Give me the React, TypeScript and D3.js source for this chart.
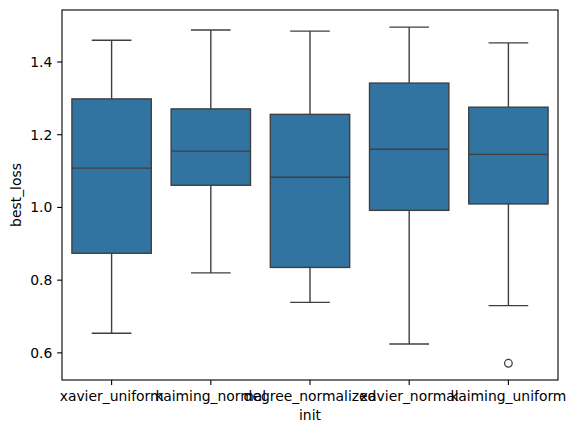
import React from "react";
import * as d3 from "d3";

const categories = ["xavier_uniform", "kaiming_normal", "degree_normalized", "xavier_normal", "kaiming_uniform"];
const whiskerLow = [0.654, 0.82, 0.739, 0.6245, 0.73];
const q1 = [0.874, 1.061, 0.835, 0.992, 1.0096];
const median = [1.108, 1.155, 1.083, 1.16, 1.146];
const q3 = [1.2985, 1.271, 1.256, 1.342, 1.2757];
const whiskerHigh = [1.46, 1.488, 1.485, 1.496, 1.4525];
const outliers: [string, number][] = [["kaiming_uniform", 0.5714]];
const yTicks = [0.6, 0.8, 1.0, 1.2, 1.4];

const W = 576, H = 433;
const left = 62, right = 558, top = 10, bottom = 380;
const boxColor = "#3274a1";
const lineColor = "#3f3f3f";
const font = "DejaVu Sans, sans-serif";
const fs = 13.9;

export default function App() {
  const x = d3.scaleBand().domain(categories).range([left, right]).paddingInner(0).paddingOuter(0);
  const y = d3.scaleLinear().domain([0.5254, 1.543]).range([bottom, top]);
  const bw = x.bandwidth() * 0.8;
  return (
    <svg width={W} height={H} style={{ position: "absolute", left: 0, top: 0 }}>
      <rect width={W} height={H} fill="#fff" />
      {categories.map((c, i) => {
        const cx = x(c)! + x.bandwidth() / 2;
        const capW = bw / 2;
        return (
          <g key={c} stroke={lineColor} strokeWidth={1.4} fill="none">
            <line x1={cx} x2={cx} y1={y(q3[i])} y2={y(whiskerHigh[i])} />
            <line x1={cx} x2={cx} y1={y(q1[i])} y2={y(whiskerLow[i])} />
            <line x1={cx - capW / 2} x2={cx + capW / 2} y1={y(whiskerHigh[i])} y2={y(whiskerHigh[i])} />
            <line x1={cx - capW / 2} x2={cx + capW / 2} y1={y(whiskerLow[i])} y2={y(whiskerLow[i])} />
            <rect x={cx - bw / 2} width={bw} y={y(q3[i])} height={y(q1[i]) - y(q3[i])} fill={boxColor} />
            <line x1={cx - bw / 2} x2={cx + bw / 2} y1={y(median[i])} y2={y(median[i])} />
          </g>
        );
      })}
      {outliers.map(([c, v], i) => (
        <circle key={i} cx={x(c)! + x.bandwidth() / 2} cy={y(v)} r={3.8} fill="none" stroke={lineColor} strokeWidth={1.3} />
      ))}
      <rect x={left} y={top} width={right - left} height={bottom - top} fill="none" stroke="#000" strokeWidth={1.1} />
      {yTicks.map((t) => (
        <g key={t}>
          <line x1={left - 4.9} x2={left} y1={y(t)} y2={y(t)} stroke="#000" strokeWidth={1.1} />
          <text x={left - 9.7} y={y(t)} dy="0.36em" textAnchor="end" fontSize={fs} fontFamily={font} fill="#000">
            {t.toFixed(1)}
          </text>
        </g>
      ))}
      {categories.map((c) => {
        const cx = x(c)! + x.bandwidth() / 2;
        return (
          <g key={c}>
            <line x1={cx} x2={cx} y1={bottom} y2={bottom + 4.9} stroke="#000" strokeWidth={1.1} />
            <text x={cx} y={bottom + 20.5} textAnchor="middle" fontSize={fs} fontFamily={font} fill="#000">
              {c}
            </text>
          </g>
        );
      })}
      <text x={(left + right) / 2} y={420} textAnchor="middle" fontSize={fs} fontFamily={font} fill="#000">init</text>
      <text transform={`translate(21,${(top + bottom) / 2}) rotate(-90)`} textAnchor="middle" fontSize={fs} fontFamily={font} fill="#000">best_loss</text>
    </svg>
  );
}
